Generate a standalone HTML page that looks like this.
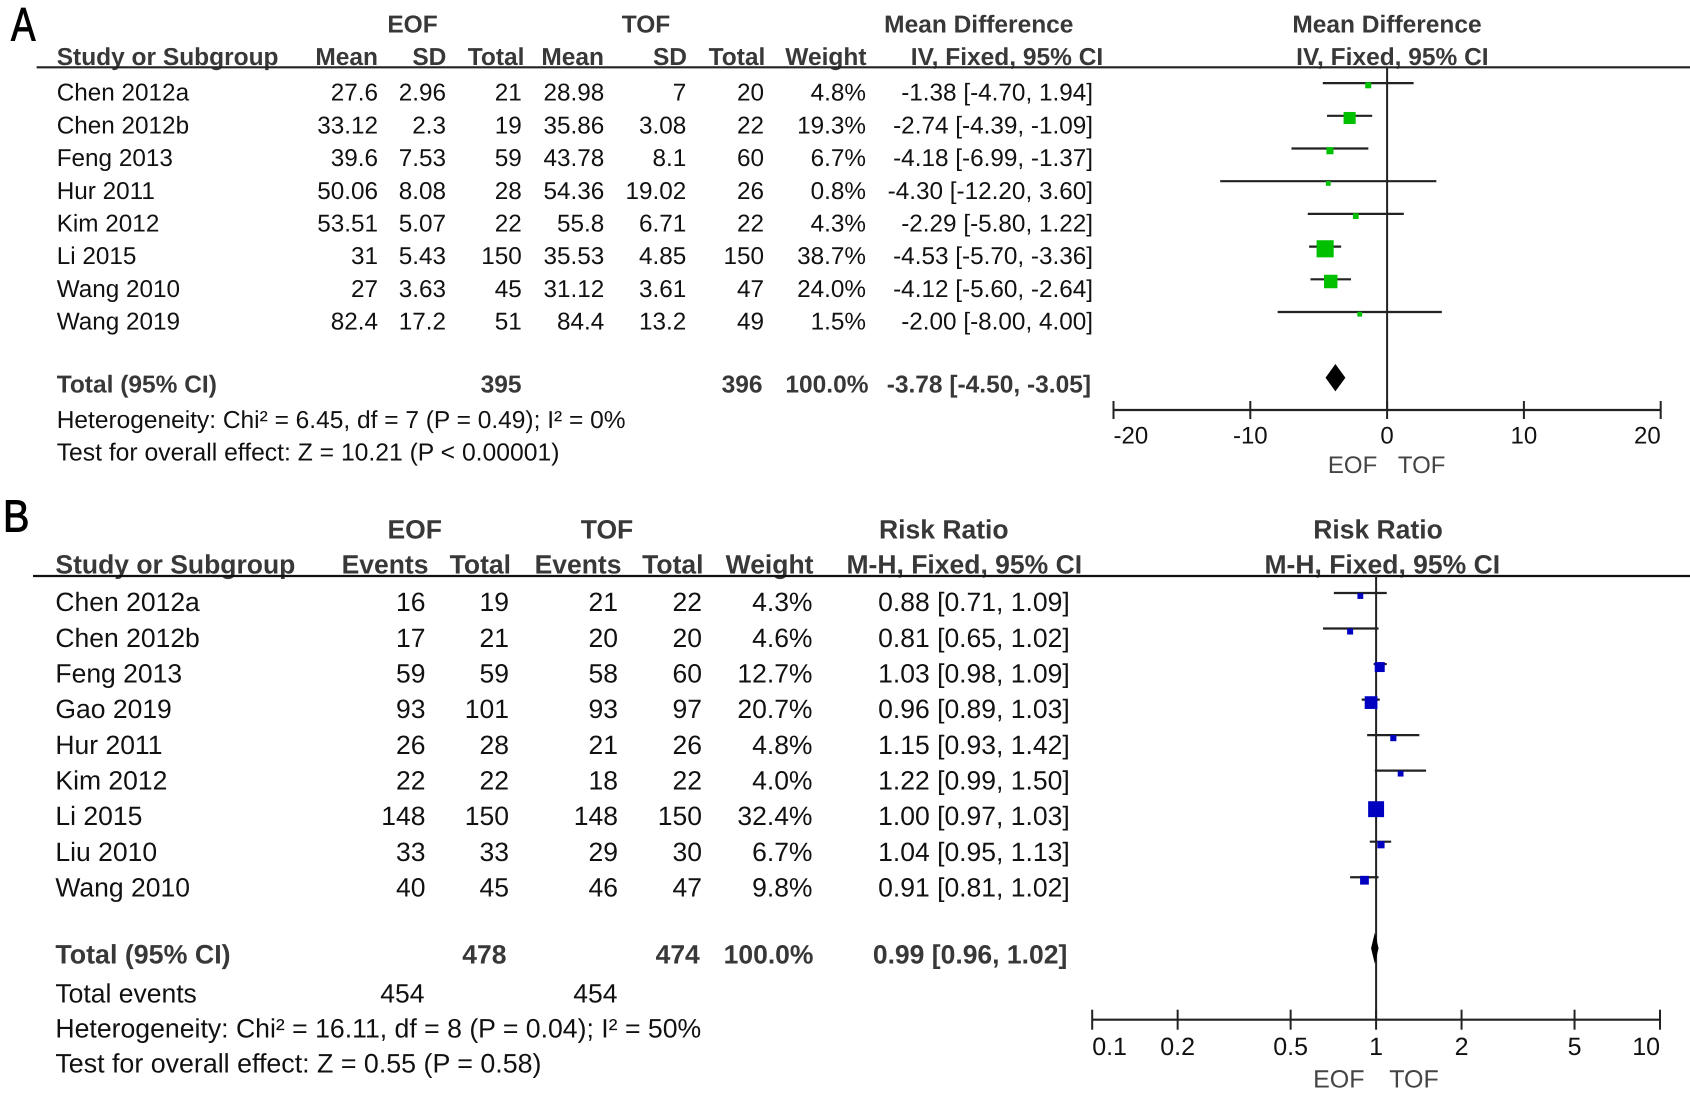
<!DOCTYPE html>
<html lang="en">
<head>
<meta charset="utf-8">
<title>Forest plots: EOF versus TOF</title>
<style>
html,body{margin:0;padding:0;background:#fff;}
svg{display:block;}
text{font-family:"Liberation Sans",Arial,sans-serif;text-rendering:geometricPrecision;fill:#111;}
.a{font-size:24.3px;}
.a .h{font-size:24.5px;}
.b{font-size:26.5px;}
.h{font-weight:bold;fill:#383838;}
.r{text-anchor:end;}
.c{text-anchor:middle;}
.g{fill:#444;}
</style>
</head>
<body>
<svg id="fig" xmlns="http://www.w3.org/2000/svg" width="1690" height="1095" viewBox="0 0 1690 1095">
<rect width="1690" height="1095" fill="#fff"/>

<text transform="translate(11,40.7) scale(0.78,1)" font-size="47" style="fill:#000;stroke:#000;stroke-width:1">A</text>
<text transform="translate(3,531.7) scale(0.88,1)" font-size="45" style="fill:#000;stroke:#000;stroke-width:1">B</text>

<g id="panel-a" class="a">
  <g>
    <text class="h c" x="412.5" y="32.5">EOF</text>
    <text class="h c" x="646" y="32.5">TOF</text>
    <text class="h c" x="978.8" y="32.5">Mean Difference</text>
    <text class="h c" x="1387" y="32.5">Mean Difference</text>
    <text class="h" x="56.7" y="65">Study or Subgroup</text>
    <text class="h r" x="378" y="65">Mean</text>
    <text class="h r" x="446.4" y="65">SD</text>
    <text class="h r" x="524.5" y="65">Total</text>
    <text class="h r" x="604" y="65">Mean</text>
    <text class="h r" x="687" y="65">SD</text>
    <text class="h r" x="765.3" y="65">Total</text>
    <text class="h r" x="866.5" y="65">Weight</text>
    <text class="h c" x="1007" y="65">IV, Fixed, 95% CI</text>
    <text class="h c" x="1392.4" y="65">IV, Fixed, 95% CI</text>
  </g>
  <g transform="translate(0,100.7)">
    <text x="56.7">Chen 2012a</text>
    <text class="r" x="378">27.6</text>
    <text class="r" x="446">2.96</text>
    <text class="r" x="521.8">21</text>
    <text class="r" x="604.3">28.98</text>
    <text class="r" x="686.3">7</text>
    <text class="r" x="764">20</text>
    <text class="r" x="866">4.8%</text>
    <text class="r" x="1093">-1.38 [-4.70, 1.94]</text>
  </g>
  <g transform="translate(0,133.4)">
    <text x="56.7">Chen 2012b</text>
    <text class="r" x="378">33.12</text>
    <text class="r" x="446">2.3</text>
    <text class="r" x="521.8">19</text>
    <text class="r" x="604.3">35.86</text>
    <text class="r" x="686.3">3.08</text>
    <text class="r" x="764">22</text>
    <text class="r" x="866">19.3%</text>
    <text class="r" x="1093">-2.74 [-4.39, -1.09]</text>
  </g>
  <g transform="translate(0,166.1)">
    <text x="56.7">Feng 2013</text>
    <text class="r" x="378">39.6</text>
    <text class="r" x="446">7.53</text>
    <text class="r" x="521.8">59</text>
    <text class="r" x="604.3">43.78</text>
    <text class="r" x="686.3">8.1</text>
    <text class="r" x="764">60</text>
    <text class="r" x="866">6.7%</text>
    <text class="r" x="1093">-4.18 [-6.99, -1.37]</text>
  </g>
  <g transform="translate(0,198.8)">
    <text x="56.7">Hur 2011</text>
    <text class="r" x="378">50.06</text>
    <text class="r" x="446">8.08</text>
    <text class="r" x="521.8">28</text>
    <text class="r" x="604.3">54.36</text>
    <text class="r" x="686.3">19.02</text>
    <text class="r" x="764">26</text>
    <text class="r" x="866">0.8%</text>
    <text class="r" x="1093">-4.30 [-12.20, 3.60]</text>
  </g>
  <g transform="translate(0,231.5)">
    <text x="56.7">Kim 2012</text>
    <text class="r" x="378">53.51</text>
    <text class="r" x="446">5.07</text>
    <text class="r" x="521.8">22</text>
    <text class="r" x="604.3">55.8</text>
    <text class="r" x="686.3">6.71</text>
    <text class="r" x="764">22</text>
    <text class="r" x="866">4.3%</text>
    <text class="r" x="1093">-2.29 [-5.80, 1.22]</text>
  </g>
  <g transform="translate(0,264.2)">
    <text x="56.7">Li 2015</text>
    <text class="r" x="378">31</text>
    <text class="r" x="446">5.43</text>
    <text class="r" x="521.8">150</text>
    <text class="r" x="604.3">35.53</text>
    <text class="r" x="686.3">4.85</text>
    <text class="r" x="764">150</text>
    <text class="r" x="866">38.7%</text>
    <text class="r" x="1093">-4.53 [-5.70, -3.36]</text>
  </g>
  <g transform="translate(0,296.9)">
    <text x="56.7">Wang 2010</text>
    <text class="r" x="378">27</text>
    <text class="r" x="446">3.63</text>
    <text class="r" x="521.8">45</text>
    <text class="r" x="604.3">31.12</text>
    <text class="r" x="686.3">3.61</text>
    <text class="r" x="764">47</text>
    <text class="r" x="866">24.0%</text>
    <text class="r" x="1093">-4.12 [-5.60, -2.64]</text>
  </g>
  <g transform="translate(0,329.6)">
    <text x="56.7">Wang 2019</text>
    <text class="r" x="378">82.4</text>
    <text class="r" x="446">17.2</text>
    <text class="r" x="521.8">51</text>
    <text class="r" x="604.3">84.4</text>
    <text class="r" x="686.3">13.2</text>
    <text class="r" x="764">49</text>
    <text class="r" x="866">1.5%</text>
    <text class="r" x="1093">-2.00 [-8.00, 4.00]</text>
  </g>
  <g>
    <text class="h" x="56.7" y="392.5">Total (95% CI)</text>
    <text class="h r" x="521.5" y="392.5">395</text>
    <text class="h r" x="762.5" y="392.5">396</text>
    <text class="h r" x="868.5" y="392.5">100.0%</text>
    <text class="h r" x="1091" y="392.5">-3.78 [-4.50, -3.05]</text>
  </g>
  <text x="56.7" y="428" font-size="24.5" style="font-size:24.5px">Heterogeneity: Chi² = 6.45, df = 7 (P = 0.49); I² = 0%</text>
  <text x="56.7" y="460.5" style="font-size:24.7px">Test for overall effect: Z = 10.21 (P &lt; 0.00001)</text>
  <line x1="36.6" y1="67.3" x2="1690" y2="67.3" stroke="#222" stroke-width="2.2"/>
  <g font-size="24">
    <text class="g c" x="1352.6" y="473">EOF</text>
    <text class="g c" x="1421.7" y="473">TOF</text>
  </g>
</g>

<g id="panel-b" class="b">
  <g>
    <text class="h c" x="414.7" y="538.5">EOF</text>
    <text class="h c" x="607" y="538.5">TOF</text>
    <text class="h c" x="943.8" y="538.5">Risk Ratio</text>
    <text class="h c" x="1378" y="538.5">Risk Ratio</text>
    <text class="h" x="55.4" y="573.5">Study or Subgroup</text>
    <text class="h r" x="428.5" y="573.5">Events</text>
    <text class="h r" x="511" y="573.5">Total</text>
    <text class="h r" x="621.5" y="573.5">Events</text>
    <text class="h r" x="703.5" y="573.5">Total</text>
    <text class="h r" x="813.5" y="573.5">Weight</text>
    <text class="h c" x="964.3" y="573.5">M-H, Fixed, 95% CI</text>
    <text class="h c" x="1382.3" y="573.5">M-H, Fixed, 95% CI</text>
  </g>
  <g transform="translate(0,611.2)">
    <text x="55.4">Chen 2012a</text>
    <text class="r" x="425.5">16</text>
    <text class="r" x="509">19</text>
    <text class="r" x="618">21</text>
    <text class="r" x="702">22</text>
    <text class="r" x="812.5">4.3%</text>
    <text class="r" x="1069.7">0.88 [0.71, 1.09]</text>
  </g>
  <g transform="translate(0,646.9)">
    <text x="55.4">Chen 2012b</text>
    <text class="r" x="425.5">17</text>
    <text class="r" x="509">21</text>
    <text class="r" x="618">20</text>
    <text class="r" x="702">20</text>
    <text class="r" x="812.5">4.6%</text>
    <text class="r" x="1069.7">0.81 [0.65, 1.02]</text>
  </g>
  <g transform="translate(0,682.5)">
    <text x="55.4">Feng 2013</text>
    <text class="r" x="425.5">59</text>
    <text class="r" x="509">59</text>
    <text class="r" x="618">58</text>
    <text class="r" x="702">60</text>
    <text class="r" x="812.5">12.7%</text>
    <text class="r" x="1069.7">1.03 [0.98, 1.09]</text>
  </g>
  <g transform="translate(0,718.2)">
    <text x="55.4">Gao 2019</text>
    <text class="r" x="425.5">93</text>
    <text class="r" x="509">101</text>
    <text class="r" x="618">93</text>
    <text class="r" x="702">97</text>
    <text class="r" x="812.5">20.7%</text>
    <text class="r" x="1069.7">0.96 [0.89, 1.03]</text>
  </g>
  <g transform="translate(0,753.8)">
    <text x="55.4">Hur 2011</text>
    <text class="r" x="425.5">26</text>
    <text class="r" x="509">28</text>
    <text class="r" x="618">21</text>
    <text class="r" x="702">26</text>
    <text class="r" x="812.5">4.8%</text>
    <text class="r" x="1069.7">1.15 [0.93, 1.42]</text>
  </g>
  <g transform="translate(0,789.5)">
    <text x="55.4">Kim 2012</text>
    <text class="r" x="425.5">22</text>
    <text class="r" x="509">22</text>
    <text class="r" x="618">18</text>
    <text class="r" x="702">22</text>
    <text class="r" x="812.5">4.0%</text>
    <text class="r" x="1069.7">1.22 [0.99, 1.50]</text>
  </g>
  <g transform="translate(0,825.1)">
    <text x="55.4">Li 2015</text>
    <text class="r" x="425.5">148</text>
    <text class="r" x="509">150</text>
    <text class="r" x="618">148</text>
    <text class="r" x="702">150</text>
    <text class="r" x="812.5">32.4%</text>
    <text class="r" x="1069.7">1.00 [0.97, 1.03]</text>
  </g>
  <g transform="translate(0,860.8)">
    <text x="55.4">Liu 2010</text>
    <text class="r" x="425.5">33</text>
    <text class="r" x="509">33</text>
    <text class="r" x="618">29</text>
    <text class="r" x="702">30</text>
    <text class="r" x="812.5">6.7%</text>
    <text class="r" x="1069.7">1.04 [0.95, 1.13]</text>
  </g>
  <g transform="translate(0,896.4)">
    <text x="55.4">Wang 2010</text>
    <text class="r" x="425.5">40</text>
    <text class="r" x="509">45</text>
    <text class="r" x="618">46</text>
    <text class="r" x="702">47</text>
    <text class="r" x="812.5">9.8%</text>
    <text class="r" x="1069.7">0.91 [0.81, 1.02]</text>
  </g>
  <g>
    <text class="h" x="55.4" y="963.5" style="font-size:26.8px">Total (95% CI)</text>
    <text class="h r" x="506.5" y="963.5">478</text>
    <text class="h r" x="699.8" y="963.5">474</text>
    <text class="h r" x="813.5" y="963.5">100.0%</text>
    <text class="h r" x="1067.3" y="963.5">0.99 [0.96, 1.02]</text>
  </g>
  <g>
    <text x="55.4" y="1002.3">Total events</text>
    <text class="r" x="424.5" y="1002.3">454</text>
    <text class="r" x="617.5" y="1002.3">454</text>
  </g>
  <text x="55.4" y="1037.5" style="font-size:26.63px">Heterogeneity: Chi² = 16.11, df = 8 (P = 0.04); I² = 50%</text>
  <text x="55.4" y="1072.5" style="font-size:26.8px">Test for overall effect: Z = 0.55 (P = 0.58)</text>
  <line x1="33" y1="576" x2="1690" y2="576" stroke="#111" stroke-width="2.2"/>
  <g font-size="25">
    <text class="g c" x="1338.8" y="1087.5">EOF</text>
    <text class="g c" x="1414" y="1087.5">TOF</text>
  </g>
</g>

<g id="plot-a"></g>
<g id="plot-b"></g>
</svg>

<script>
// Panel A: mean difference
const mdStudies = ["Chen 2012a","Chen 2012b","Feng 2013","Hur 2011","Kim 2012","Li 2015","Wang 2010","Wang 2019"];
const mdEstimates = [-1.38,-2.74,-4.18,-4.30,-2.29,-4.53,-4.12,-2.00];
const mdLower = [-4.70,-4.39,-6.99,-12.20,-5.80,-5.70,-5.60,-8.00];
const mdUpper = [1.94,-1.09,-1.37,3.60,1.22,-3.36,-2.64,4.00];
const mdWeights = [4.8,19.3,6.7,0.8,4.3,38.7,24.0,1.5];
const mdPooled = [-3.78,-4.50,-3.05];
const mdTicks = [-20,-10,0,10,20];

// Panel B: risk ratio
const rrStudies = ["Chen 2012a","Chen 2012b","Feng 2013","Gao 2019","Hur 2011","Kim 2012","Li 2015","Liu 2010","Wang 2010"];
const rrEstimates = [0.88,0.81,1.03,0.96,1.15,1.22,1.00,1.04,0.91];
const rrLower = [0.71,0.65,0.98,0.89,0.93,0.99,0.97,0.95,0.81];
const rrUpper = [1.09,1.02,1.09,1.03,1.42,1.50,1.03,1.13,1.02];
const rrWeights = [4.3,4.6,12.7,20.7,4.8,4.0,32.4,6.7,9.8];
const rrPooled = [0.99,0.96,1.02];
const rrTicks = [0.1,0.2,0.5,1,2,5,10];

const SVGNS = "http://www.w3.org/2000/svg";
const INK = "#222";

function make(parent, tag, attrs) {
  const el = document.createElementNS(SVGNS, tag);
  for (const k in attrs) el.setAttribute(k, attrs[k]);
  parent.appendChild(el);
  return el;
}

function slug(s) {
  return s.toLowerCase().replace(/\s+/g, "-");
}

function drawForest(root, cfg) {
  const refLine = make(root, "line", {x1: cfg.x(cfg.ref), x2: cfg.x(cfg.ref), y1: cfg.top, y2: cfg.axisY, stroke: INK, "stroke-width": 2});
  
  

  cfg.studies.forEach(function (study, i) {
    const g = make(root, "g", {});
    
    

    const ci = make(g, "line", {x1: cfg.x(cfg.lower[i]), x2: cfg.x(cfg.upper[i]), y1: cfg.ciY(i), y2: cfg.ciY(i), stroke: INK, "stroke-width": 2.2});
    
    

    const size = Math.max(cfg.minSize, cfg.sizeK * Math.sqrt(cfg.weights[i]));
    const sq = make(g, "rect", {x: cfg.x(cfg.est[i]) - size / 2, y: cfg.ciY(i) + cfg.sqOffset - size / 2, width: size, height: size, fill: cfg.color});
    
    
  });

  const mid = cfg.x(cfg.pooled[0]);
  const lo = cfg.x(cfg.pooled[1]);
  const hi = cfg.x(cfg.pooled[2]);
  const d = make(root, "polygon", {points: [lo, cfg.diaY, mid, cfg.diaY - cfg.diaH, hi, cfg.diaY, mid, cfg.diaY + cfg.diaH].join(" "), fill: "#000"});
  
  

  const axis = make(root, "g", {});
  
  

  const first = cfg.ticks[0];
  const last = cfg.ticks[cfg.ticks.length - 1];
  const baseline = make(axis, "line", {x1: cfg.x(first), x2: cfg.x(last), y1: cfg.axisY, y2: cfg.axisY, stroke: INK, "stroke-width": 2.2});
  
  

  cfg.ticks.forEach(function (t, i) {
    const tick = make(axis, "line", {x1: cfg.x(t), x2: cfg.x(t), y1: cfg.axisY - cfg.tickUp, y2: cfg.axisY + cfg.tickDown, stroke: INK, "stroke-width": 2});
    
    

    const anchor = i === 0 ? "start" : (i === cfg.ticks.length - 1 ? "end" : "middle");
    const label = make(axis, "text", {x: cfg.x(t), y: cfg.labelY, "text-anchor": anchor, "font-size": cfg.labelSize});
    
    
    label.textContent = String(t);
  });
}

drawForest(document.getElementById("plot-a"), {
  studies: mdStudies, est: mdEstimates, lower: mdLower, upper: mdUpper, weights: mdWeights,
  pooled: mdPooled, ticks: mdTicks, ref: 0,
  x: function (v) { return 1387.1 + 13.68 * v; },
  ciY: function (i) { return 83.1 + 32.7 * i; },
  sqOffset: 2.2, sizeK: 2.75, minSize: 4.8, color: "#00c000",
  top: 67, axisY: 410, tickUp: 9, tickDown: 9, labelY: 443.3, labelSize: 24,
  diaY: 377.7, diaH: 13.7
});

drawForest(document.getElementById("plot-b"), {
  studies: rrStudies, est: rrEstimates, lower: rrLower, upper: rrUpper, weights: rrWeights,
  pooled: rrPooled, ticks: rrTicks, ref: 1,
  x: function (v) { return 1376.1 + 283.9 * Math.log10(v); },
  ciY: function (i) { return 593 + 35.53 * i; },
  sqOffset: 3, sizeK: 2.8, minSize: 5.8, color: "#0000c0",
  top: 576, axisY: 1019.7, tickUp: 10, tickDown: 10, labelY: 1055.2, labelSize: 25,
  diaY: 948.2, diaH: 15.6
});
</script>
</body>
</html>
